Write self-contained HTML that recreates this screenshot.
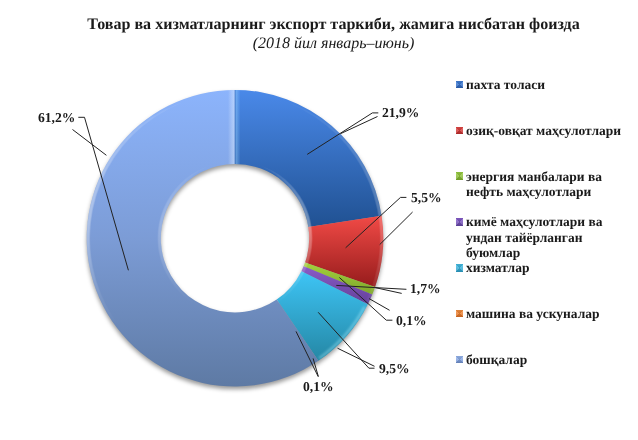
<!DOCTYPE html><html><head><meta charset="utf-8"><style>
html,body{margin:0;padding:0;background:#fff;width:638px;height:440px;overflow:hidden}
.t{position:absolute;white-space:nowrap;will-change:transform;font-family:"Liberation Serif",serif;color:#1a1a1a;line-height:1;text-rendering:geometricPrecision}
.b{font-weight:bold;font-size:13.333px}
.mk{position:absolute;width:7px;height:7px}
</style></head><body>
<svg width="638" height="440" viewBox="0 0 638 440" style="position:absolute;left:0;top:0">
<defs><linearGradient id="g0" gradientUnits="userSpaceOnUse" x1="0" y1="90" x2="0" y2="227"><stop offset="0.000" stop-color="#4A89E9"/><stop offset="1.000" stop-color="#205192"/></linearGradient><linearGradient id="g1" gradientUnits="userSpaceOnUse" x1="0" y1="216" x2="0" y2="287"><stop offset="0.000" stop-color="#F14A46"/><stop offset="1.000" stop-color="#961C1C"/></linearGradient><linearGradient id="g2" gradientUnits="userSpaceOnUse" x1="0" y1="262" x2="0" y2="295"><stop offset="0.000" stop-color="#A4D23E"/><stop offset="1.000" stop-color="#7EA62A"/></linearGradient><linearGradient id="g3" gradientUnits="userSpaceOnUse" x1="0" y1="266" x2="0" y2="304"><stop offset="0.000" stop-color="#8A5CC8"/><stop offset="1.000" stop-color="#64409A"/></linearGradient><linearGradient id="g4" gradientUnits="userSpaceOnUse" x1="0" y1="271" x2="0" y2="362"><stop offset="0.000" stop-color="#3EC5F6"/><stop offset="1.000" stop-color="#2486A3"/></linearGradient><linearGradient id="g5" gradientUnits="userSpaceOnUse" x1="0" y1="90" x2="0" y2="386"><stop offset="0.000" stop-color="#8CB4FC"/><stop offset="0.500" stop-color="#7C9CD6"/><stop offset="1.000" stop-color="#5E7AA4"/></linearGradient>
<filter id="bevel" filterUnits="userSpaceOnUse" x="70" y="70" width="330" height="330" color-interpolation-filters="sRGB">
  <feGaussianBlur in="SourceAlpha" stdDeviation="1.8" result="b"/>
  <feDiffuseLighting in="b" surfaceScale="4" diffuseConstant="1" lighting-color="#fff" result="d1"><feDistantLight azimuth="180" elevation="35"/></feDiffuseLighting>
  <feDiffuseLighting in="b" surfaceScale="4" diffuseConstant="1" lighting-color="#fff" result="d2"><feDistantLight azimuth="0" elevation="35"/></feDiffuseLighting>
  <feColorMatrix in="d1" type="matrix" values="0 0 0 0 1  0 0 0 0 1  0 0 0 0 1  1.0 0 0 0 -0.6336" result="h1"/>
  <feColorMatrix in="d2" type="matrix" values="0 0 0 0 1  0 0 0 0 1  0 0 0 0 1  0.600 0 0 0 -0.3801" result="h2"/>
  <feMerge result="hh"><feMergeNode in="h1"/><feMergeNode in="h2"/></feMerge>
  <feComposite in="hh" in2="SourceAlpha" operator="in" result="hl"/>
</filter>
<filter id="shadow" x="-20%" y="-20%" width="140%" height="140%"><feGaussianBlur stdDeviation="2.1"/></filter>

</defs>
<path d="M86.69999999999999,238.2 A148.3,148.3 0 1 1 383.3,238.2 A148.3,148.3 0 1 1 86.69999999999999,238.2 Z M160.8,238.2 A74.2,74.2 0 1 0 309.2,238.2 A74.2,74.2 0 1 0 160.8,238.2 Z" fill="#000" fill-opacity="0.4" fill-rule="evenodd" transform="translate(0,2.8)" filter="url(#shadow)"/>
<path d="M235.00,89.90 A148.3,148.3 0 0 1 381.59,215.77 L308.35,226.98 A74.2,74.2 0 0 0 235.00,164.00 Z" fill="url(#g0)"/>
<path d="M381.59,215.77 A148.3,148.3 0 0 1 375.05,286.97 L305.07,262.60 A74.2,74.2 0 0 0 308.35,226.98 Z" fill="url(#g1)"/>
<path d="M375.05,286.97 A148.3,148.3 0 0 1 372.21,294.47 L303.65,266.36 A74.2,74.2 0 0 0 305.07,262.60 Z" fill="url(#g2)"/>
<path d="M372.21,294.47 A148.3,148.3 0 0 1 367.83,304.14 L301.46,271.19 A74.2,74.2 0 0 0 303.65,266.36 Z" fill="url(#g3)"/>
<path d="M367.83,304.14 A148.3,148.3 0 0 1 318.36,360.86 L276.71,299.57 A74.2,74.2 0 0 0 301.46,271.19 Z" fill="url(#g4)"/>
<path d="M318.36,360.86 A148.3,148.3 0 1 1 235.00,89.90 L235.00,164.00 A74.2,74.2 0 1 0 276.71,299.57 Z" fill="url(#g5)"/>
<linearGradient id="mg" gradientUnits="userSpaceOnUse" x1="0" y1="90" x2="0" y2="386"><stop offset="0" stop-color="#fff"/><stop offset="0.45" stop-color="#fff"/><stop offset="0.8" stop-color="#000"/></linearGradient><mask id="bm" maskUnits="userSpaceOnUse" x="0" y="0" width="638" height="440"><rect x="0" y="0" width="638" height="440" fill="url(#mg)"/></mask>
<g mask="url(#bm)"><path d="M86.69999999999999,238.2 A148.3,148.3 0 1 1 383.3,238.2 A148.3,148.3 0 1 1 86.69999999999999,238.2 Z M160.8,238.2 A74.2,74.2 0 1 0 309.2,238.2 A74.2,74.2 0 1 0 160.8,238.2 Z" fill="#fff" fill-rule="evenodd" filter="url(#bevel)"/></g>
<clipPath id="ringclip"><path d="M86.69999999999999,238.2 A148.3,148.3 0 1 1 383.3,238.2 A148.3,148.3 0 1 1 86.69999999999999,238.2 Z M160.8,238.2 A74.2,74.2 0 1 0 309.2,238.2 A74.2,74.2 0 1 0 160.8,238.2 Z" fill-rule="evenodd" clip-rule="evenodd"/></clipPath>
<linearGradient id="spL" x1="0" x2="1" y1="0" y2="0"><stop offset="0" stop-color="#fff" stop-opacity="0"/><stop offset="1" stop-color="#E0F0FF" stop-opacity="0.5"/></linearGradient>
<linearGradient id="spR" x1="0" x2="1" y1="0" y2="0"><stop offset="0" stop-color="#A0D8FF" stop-opacity="0.5"/><stop offset="1" stop-color="#A0D8FF" stop-opacity="0"/></linearGradient>
<filter id="hb" x="-10%" y="-10%" width="120%" height="120%"><feGaussianBlur stdDeviation="0.8"/></filter>
<g clip-path="url(#ringclip)"><path d="M364.53,307.07 A146.70000000000002,146.70000000000002 0 0 1 319.14,358.37" fill="none" stroke="#B0F0FF" stroke-opacity="0.35" stroke-width="3" filter="url(#hb)"/></g>
<g clip-path="url(#ringclip)"><rect x="228" y="85" width="6.6" height="82" fill="url(#spL)"/><rect x="235.4" y="85" width="5" height="82" fill="url(#spR)"/><rect x="234.6" y="85" width="0.9" height="82" fill="#3060A8" fill-opacity="0.5"/></g>
<path d="M307.2,154.4 L372.4,112.9 L378.3,112.9" fill="none" stroke="#222" stroke-width="1.0"/>
<path d="M340.5,133.7 L377.5,116.5" fill="none" stroke="#222" stroke-width="1.0"/>
<path d="M345.6,247.8 L400.5,197.4 L406.4,197.4" fill="none" stroke="#222" stroke-width="1.0"/>
<path d="M379.7,244.6 L412.6,212.0" fill="none" stroke="#222" stroke-width="1.0"/>
<path d="M336.3,285.4 L375.1,287.6 L406.4,289.3" fill="none" stroke="#222" stroke-width="1.0"/>
<path d="M375.1,287.6 L401.7,293.4" fill="none" stroke="#222" stroke-width="1.0"/>
<path d="M339.4,277.5 L386.3,320.2 L392.4,320.2" fill="none" stroke="#222" stroke-width="1.0"/>
<path d="M369.1,298.6 L389.6,310.3" fill="none" stroke="#222" stroke-width="1.0"/>
<path d="M318.2,312.3 L368.9,368.2 L374.5,368.2" fill="none" stroke="#222" stroke-width="1.0"/>
<path d="M337.5,348.2 L374.5,366.3" fill="none" stroke="#222" stroke-width="1.0"/>
<path d="M296.0,331.4 L318.3,376.8" fill="none" stroke="#222" stroke-width="1.0"/>
<path d="M313.1,358.4 L318.3,376.3" fill="none" stroke="#222" stroke-width="1.0"/>
<path d="M84.5,117.3 L128.4,270.3" fill="none" stroke="#222" stroke-width="1.0"/>
<path d="M78.3,117.3 L84.5,117.3" fill="none" stroke="#222" stroke-width="1.0"/>
<path d="M72.5,129.5 L106.4,155.3" fill="none" stroke="#222" stroke-width="1.0"/>
</svg>
<div class="t" style="font-weight:bold;font-size:16.06px;left:0;width:667px;text-align:center;top:17.20px">Товар ва хизматларнинг экспорт таркиби, жамига нисбатан фоизда</div>
<div class="t" style="font-style:italic;font-size:16px;left:0;width:667px;text-align:center;top:36.40px">(2018 йил январь–июнь)</div>
<div class="t b" style="font-size:13.6px;left:382.0px;top:105.51px">21,9%</div>
<div class="t b" style="font-size:13.6px;left:410.6px;top:190.51px">5,5%</div>
<div class="t b" style="font-size:13.6px;left:410.2px;top:282.01px">1,7%</div>
<div class="t b" style="font-size:13.6px;left:396.0px;top:313.51px">0,1%</div>
<div class="t b" style="font-size:13.6px;left:378.5px;top:361.51px">9,5%</div>
<div class="t b" style="font-size:13.6px;left:303.0px;top:380.41px">0,1%</div>
<div class="t b" style="font-size:13.6px;left:38.3px;top:110.51px">61,2%</div>
<div class="mk" style="left:456px;top:81px;height:7px;background:conic-gradient(rgba(0,0,0,.10) 0deg 45deg,rgba(255,255,255,.16) 45deg 135deg,rgba(0,0,0,.10) 135deg 225deg,rgba(255,255,255,.16) 225deg 315deg,rgba(0,0,0,.10) 315deg 360deg),linear-gradient(#4282DE,#2E64B8)"></div>
<div class="t b" style="font-size:13.5px;left:465.5px;top:77.79px">пахта толаси</div>
<div class="mk" style="left:456px;top:127px;height:7px;background:conic-gradient(rgba(0,0,0,.10) 0deg 45deg,rgba(255,255,255,.16) 45deg 135deg,rgba(0,0,0,.10) 135deg 225deg,rgba(255,255,255,.16) 225deg 315deg,rgba(0,0,0,.10) 315deg 360deg),linear-gradient(#E84A48,#BC2E2E)"></div>
<div class="t b" style="font-size:13.5px;left:465.5px;top:123.66px">озиқ-овқат маҳсулотлари</div>
<div class="mk" style="left:456px;top:172px;height:8px;background:conic-gradient(rgba(0,0,0,.10) 0deg 45deg,rgba(255,255,255,.16) 45deg 135deg,rgba(0,0,0,.10) 135deg 225deg,rgba(255,255,255,.16) 225deg 315deg,rgba(0,0,0,.10) 315deg 360deg),linear-gradient(#9CD244,#7EAE2E)"></div>
<div class="t b" style="font-size:13.5px;left:465.5px;top:169.53px">энергия манбалари ва</div>
<div class="t b" style="font-size:13.5px;left:465.5px;top:184.83px">нефть маҳсулотлари</div>
<div class="mk" style="left:456px;top:218px;height:8px;background:conic-gradient(rgba(0,0,0,.10) 0deg 45deg,rgba(255,255,255,.16) 45deg 135deg,rgba(0,0,0,.10) 135deg 225deg,rgba(255,255,255,.16) 225deg 315deg,rgba(0,0,0,.10) 315deg 360deg),linear-gradient(#8A60D0,#6446A4)"></div>
<div class="t b" style="font-size:13.5px;left:465.5px;top:215.40px">кимё маҳсулотлари ва</div>
<div class="t b" style="font-size:13.5px;left:465.5px;top:230.70px">ундан тайёрланган</div>
<div class="t b" style="font-size:13.5px;left:465.5px;top:246.00px">буюмлар</div>
<div class="mk" style="left:456px;top:264px;height:8px;background:conic-gradient(rgba(0,0,0,.10) 0deg 45deg,rgba(255,255,255,.16) 45deg 135deg,rgba(0,0,0,.10) 135deg 225deg,rgba(255,255,255,.16) 225deg 315deg,rgba(0,0,0,.10) 315deg 360deg),linear-gradient(#48C2EA,#2C9CC4)"></div>
<div class="t b" style="font-size:13.5px;left:465.5px;top:261.27px">хизматлар</div>
<div class="mk" style="left:456px;top:310px;height:7px;background:conic-gradient(rgba(0,0,0,.10) 0deg 45deg,rgba(255,255,255,.16) 45deg 135deg,rgba(0,0,0,.10) 135deg 225deg,rgba(255,255,255,.16) 225deg 315deg,rgba(0,0,0,.10) 315deg 360deg),linear-gradient(#F89242,#DC6E22)"></div>
<div class="t b" style="font-size:13.5px;left:465.5px;top:307.14px">машина ва ускуналар</div>
<div class="mk" style="left:456px;top:356px;height:7px;background:conic-gradient(rgba(0,0,0,.10) 0deg 45deg,rgba(255,255,255,.16) 45deg 135deg,rgba(0,0,0,.10) 135deg 225deg,rgba(255,255,255,.16) 225deg 315deg,rgba(0,0,0,.10) 315deg 360deg),linear-gradient(#9CBCF4,#6E8ECC)"></div>
<div class="t b" style="font-size:13.5px;left:465.5px;top:353.01px">бошқалар</div>
</body></html>
